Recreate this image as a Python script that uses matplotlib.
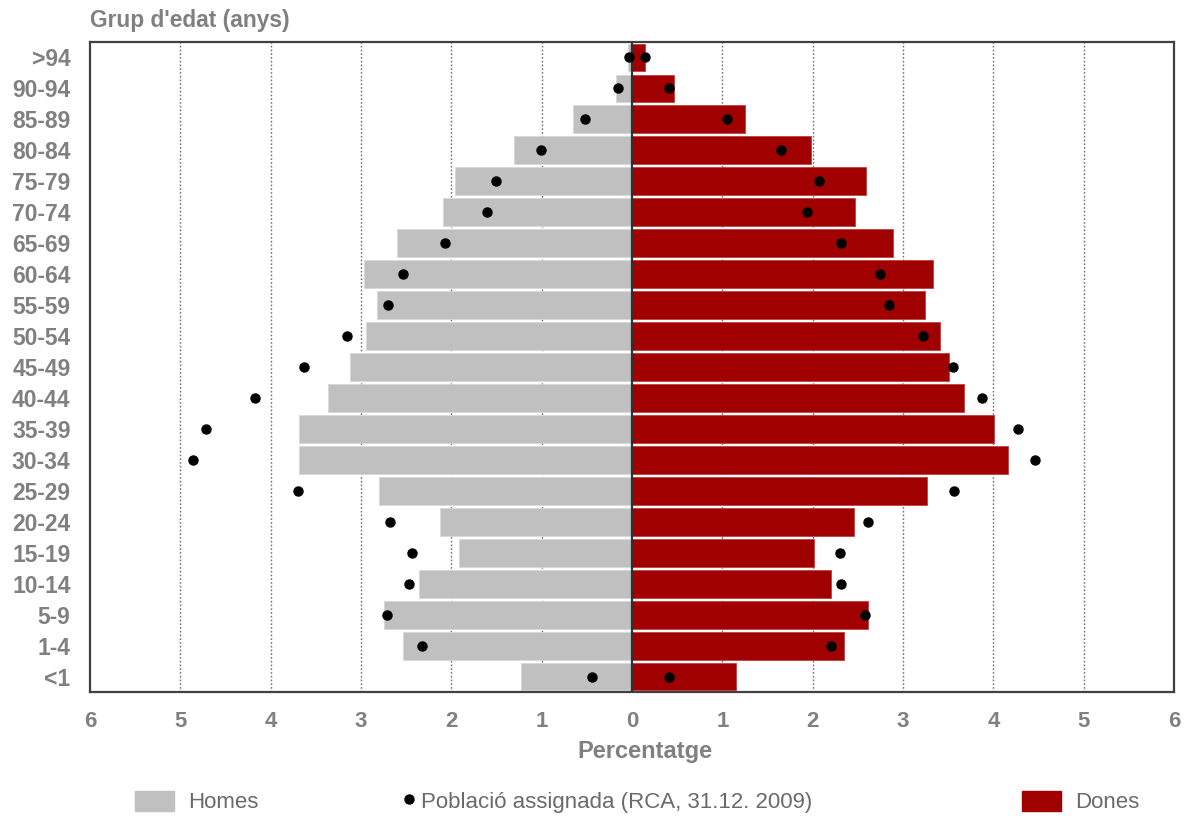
import matplotlib
matplotlib.use("Agg")
import matplotlib.pyplot as plt
from matplotlib.patches import Patch
from matplotlib.lines import Line2D
import numpy as np

# age groups, top to bottom as in the chart
groups = [">94", "90-94", "85-89", "80-84", "75-79", "70-74", "65-69", "60-64",
          "55-59", "50-54", "45-49", "40-44", "35-39", "30-34", "25-29", "20-24",
          "15-19", "10-14", "5-9", "1-4", "<1"]

# percentages (homes / dones)
homes = [0.04, 0.18, 0.65, 1.31, 1.96, 2.09, 2.60, 2.97, 2.82, 2.95, 3.12,
         3.37, 3.69, 3.69, 2.80, 2.12, 1.91, 2.36, 2.74, 2.53, 1.23]
dones = [0.14, 0.47, 1.25, 1.98, 2.59, 2.47, 2.89, 3.33, 3.24, 3.41, 3.51,
         3.68, 4.01, 4.16, 3.27, 2.46, 2.02, 2.20, 2.61, 2.35, 1.15]

# assigned population (RCA, 31.12.2009), the black dots
rca_homes = [0.03, 0.15, 0.52, 1.01, 1.51, 1.60, 2.07, 2.53, 2.70, 3.15, 3.63,
             4.17, 4.72, 4.86, 3.70, 2.68, 2.44, 2.47, 2.71, 2.33, 0.44]
rca_dones = [0.14, 0.41, 1.05, 1.65, 2.07, 1.94, 2.31, 2.75, 2.85, 3.22, 3.55,
             3.88, 4.27, 4.46, 3.56, 2.61, 2.30, 2.31, 2.58, 2.20, 0.41]

xticks = [-6, -5, -4, -3, -2, -1, 0, 1, 2, 3, 4, 5, 6]

GRAY = "#c0c0c0"
RED = "#a00000"
TXT = "#808080"

plt.rcParams['font.family'] = ['Liberation Sans', 'DejaVu Sans']

fig = plt.figure(figsize=(11.92, 8.16), dpi=100)
ax = fig.add_axes([90 / 1192, 1 - 692 / 816, (1174 - 90) / 1192, 650 / 816])

y = np.arange(len(groups))[::-1]

ax.barh(y, [-v for v in homes], height=0.9, color=GRAY, edgecolor="#d8d8d8",
        linewidth=0.6, zorder=2)
ax.barh(y, dones, height=0.9, color=RED, edgecolor="#c04040",
        linewidth=0.6, zorder=2)
ax.plot([-v for v in rca_homes], y, "o", color="black", markersize=6.5,
        linestyle="none", zorder=4)
ax.plot(rca_dones, y, "o", color="black", markersize=6.5,
        linestyle="none", zorder=4)

ax.axvline(0, color="#303030", linewidth=1.6, zorder=3)
for t in xticks:
    if t not in (0, -6, 6):
        ax.axvline(t, color="#707070", linewidth=1.0, linestyle=(0, (1.2, 1.5)),
                   zorder=1)

ax.set_xlim(-6, 6)
ax.set_ylim(-0.5, len(groups) - 0.5)
ax.set_xticks(xticks)
ax.set_xticklabels([str(abs(t)) for t in xticks])
ax.set_yticks(y)
ax.set_yticklabels(groups)
ax.tick_params(axis="both", length=0, labelcolor=TXT)
ax.tick_params(axis="y", pad=14, labelsize=16.5)
ax.tick_params(axis="x", pad=14, labelsize=16)
for lbl in ax.get_xticklabels() + ax.get_yticklabels():
    lbl.set_fontweight("bold")

for s in ax.spines.values():
    s.set_color("#404040")
    s.set_linewidth(1.6)

ax.set_xlabel("Percentatge", fontsize=17, fontweight="bold", color=TXT)
ax.xaxis.set_label_coords(0.512, -0.074)
fig.text(90 / 1192, 1 - 20 / 816, "Grup d'edat (anys)", fontsize=16.4,
         fontweight="bold", color=TXT, ha="left", va="center")

# legend, three separate entries spread along the bottom
leg_y = 1 - 802 / 816
common = dict(frameon=False, loc="center left", borderpad=0, borderaxespad=0,
              fontsize=16, labelcolor="#6a6a6a", handleheight=1.0)
fig.legend(handles=[Patch(facecolor=GRAY, edgecolor=GRAY)], labels=["Homes"],
           bbox_to_anchor=(135 / 1192, leg_y), handlelength=1.75,
           handletextpad=0.65, **common)
fig.legend(handles=[Line2D([], [], marker="o", color="black", linestyle="none",
                           markersize=6.5)],
           labels=["Població assignada (RCA, 31.12. 2009)"],
           bbox_to_anchor=(400 / 1192, leg_y), handlelength=0.8,
           handletextpad=0.15, **common)
fig.legend(handles=[Patch(facecolor=RED, edgecolor=RED)], labels=["Dones"],
           bbox_to_anchor=(1022 / 1192, leg_y), handlelength=1.75,
           handletextpad=0.65, **common)

fig.savefig("out.png", dpi=100, facecolor="white")
